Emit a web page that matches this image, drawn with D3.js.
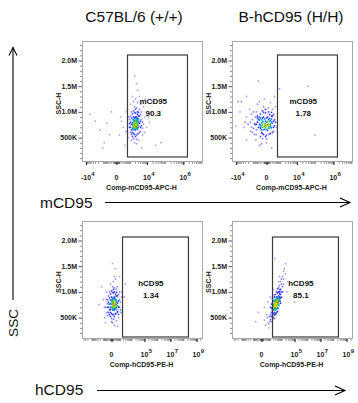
<!DOCTYPE html>
<html><head><meta charset="utf-8">
<script src="https://cdn.jsdelivr.net/npm/d3@7"></script>
<style>body{margin:0;background:#fff}text{font-family:Arial,"Liberation Sans",sans-serif}</style>
</head><body>
<svg id="c" width="358" height="403"></svg>
<script>
// ---------- data ----------
const columnTitles = ["C57BL/6 (+/+)", "B-hCD95 (H/H)"];
const rowMarkers = ["mCD95", "hCD95"];
const sideLabel = "SSC";
const yTitle = "SSC-H";
const yTickValues = [500, 1000, 1500, 2000];          // SSC-H in thousands
const yTickLabels = ["500K", "1.0M", "1.5M", "2.0M"];
const mTickValues = [-1e4, 0, 1e4, 1e6];
const mTickLabels = ["-10^4", "0", "10^4", "10^6"];
const hTickValues = [0, 1e5, 1e7, 1e9];
const hTickLabels = ["0", "10^5", "10^7", "10^9"];
const gateNames = ["mCD95", "mCD95", "hCD95", "hCD95"];
const gatePercents = ["90.3", "1.78", "1.34", "85.1"];
const xAxisTitles = ["Comp-mCD95-APC-H", "Comp-mCD95-APC-H", "Comp-hCD95-PE-H", "Comp-hCD95-PE-H"];
const mGate = [656, 1.69e6, 123, 2107];   // x0, x1, y0, y1 (y in K)
const hGate = [1750, 2.4e8, 123, 2068];

// events: [fluorescence, SSC-H (K)]
const wtMouseCD95 = [
[1650,700],[1900,760],[2180,820],[2500,680],[2870,740],[1420,790],[3280,800],[1900,650],[2180,720],[2500,870],
[1650,840],[2870,660],[2180,900],[1900,880],[2500,760],[3280,710],[1420,680],[1650,770],[2870,820],[2180,650],
[1900,700],[2500,800],[2180,770],[1650,900],[3280,860],[2870,880],[1420,740],[1900,820],[2500,720],[2180,690],
[1750,730],[2050,790],[2350,750],[2700,770],[1550,720],[2050,860],[2350,680],[3050,760],[1750,810],[2700,700],
[2050,730],[2350,830],[1550,850],[3050,690],[1750,660],[2700,850],[2050,670],[2350,900],[1550,660],[3050,830],
[905,700],[1057,800],[1230,650],[3750,780],[4280,700],[4890,850],[1057,920],[1230,560],[3750,600],[4280,950],
[905,850],[1230,1000],[2180,1050],[2870,1000],[1650,1020],[1900,560],[2500,550],[2180,520],[3280,580],[1420,600],
[3750,920],[1057,600],[4280,820],[1230,760],[1650,580],[2870,570],[2500,1080],[1900,1100],[3280,990],[1420,960],
[905,770],[4890,730],[5580,800],[1057,700],[3750,1050],[2180,980],[1650,480],[2500,470],[3280,920],[1420,520],
[2870,950],[1900,990],[4280,620],[1230,880],[5580,680],
[656,600],[773,900],[6360,760],[7250,900],[656,1050],[9400,700],[2180,1250],[1650,1200],[2870,1180],[3750,1300],
[1900,400],[2500,380],[1230,450],[4280,1150],[773,500],[6360,1100],[5580,550],[13800,800],[1423,1300],[2866,1420],
[3281,450],[1057,1150],[7250,600],[2500,1550],[4890,1000],
[300,700],[-500,780],[-1500,650],[150,900],[-3000,820],[-800,400],[400,350],[-200,1000],[-6000,950],[100,550],
[-1000,300],[500,620],[-300,560],[200,820],[550,1000],
[30000,350],[60000,400],[12000,900],[5000,300],[8000,1250],[2000,1700],[20000,1200]
];
const humanMouseMCD95 = [
[-247,700],[-143,760],[-29,820],[62,680],[143,740],[-192,790],[192,800],[-100,650],[0,720],[100,870],
[-310,840],[-62,660],[29,900],[-143,880],[62,760],[143,710],[-247,680],[-29,770],[100,820],[-192,650],
[-100,700],[0,800],[-62,770],[-310,900],[192,860],[100,750],[-247,740],[-143,820],[62,720],[-29,690],
[-192,730],[-62,860],[29,750],[143,770],[-100,810],[0,660],[-310,760],[62,850],[-143,700],[29,800],
[-247,880],[192,690],[-29,740],[100,690],[-192,850],[0,880],[-62,720],[143,830],[-100,900],[29,640],
[-381,700],[-462,800],[-555,650],[247,780],[310,700],[381,850],[-462,920],[-555,560],[247,600],[310,950],
[-381,850],[-555,1000],[-29,1050],[62,1000],[-143,1020],[-100,560],[0,550],[-29,520],[143,580],[-192,600],
[247,920],[-656,750],[310,820],[-555,760],[-143,580],[100,570],[62,1080],[-100,1100],[192,990],[-247,960],
[-773,770],[381,730],[462,800],[-656,900],[247,1050],[-29,980],[-143,480],[0,470],[192,920],[-247,520],
[100,950],[-100,990],[310,620],[-462,880],[-905,680],
[-1057,850],[-1230,700],[-1423,800],[-905,1000],[-773,560],[462,1100],[-1057,600],[555,700],[-1230,950],[-62,1250],
[-310,1200],[143,1180],[-1423,620],[-2000,760],[-2500,900],[0,400],[-190,380],[-462,1150],[-620,450],[380,1300],
[-2500,1300],[-1600,1050],
[-3000,800],[-3500,700],[-6000,1000],[-5000,1200],[-300,350],[200,300],[-400,1600],[-10000,720],[40000,1500],[100000,550],
[-2500,450],[900,1450],[-7500,1200]
];
const wtMouseHCD95 = [
[-56,700],[0,760],[56,820],[123,680],[203,740],[299,790],[413,800],[56,650],[123,720],[203,870],
[299,840],[413,660],[0,900],[56,880],[123,760],[203,710],[299,680],[-56,770],[413,820],[123,650],
[56,700],[203,800],[123,770],[0,840],[299,860],[413,750],[-56,840],[56,790],[203,690],[299,720],
[123,860],[203,650],[0,700],[56,740],[299,760],[123,810],[203,900],[-56,660],[413,700],[56,850],
[159,730],[250,770],[90,790],[350,710],[159,880],[250,680],[90,680],[350,850],[25,810],[159,830],
[-299,700],[-203,800],[-123,650],[550,780],[711,700],[907,850],[-203,920],[-123,560],[550,600],[711,950],
[-299,850],[-123,1000],[123,1050],[203,1000],[0,1020],[56,560],[123,550],[203,520],[299,580],[-56,600],
[550,920],[-203,600],[711,820],[-123,760],[0,580],[299,570],[203,1080],[56,1100],[413,990],[-56,960],
[-299,770],[550,730],[907,700],[-203,700],[413,1050],[123,980],[0,480],[123,470],[413,920],[-56,520],
[299,950],[56,990],[550,620],[-123,880],[711,560],
[-413,850],[-550,700],[1140,800],[-413,600],[907,1000],[123,1200],[299,1250],[-56,1150],[1415,900],[711,500],
[0,420],[413,440],[-299,540],[1140,650],[550,1100],[203,1300],[-413,1000],[56,400],
[1500,1000],[-711,700],[-907,850],[299,1450],[56,1550],[1300,600],[-550,400],[550,330],[203,350],[2500,900],
[-1400,1100],[907,1300],[-700,500],[-2500,750],[3000,1150]
];
const humanMouseHCD95 = [
[2140,660],[2610,700],[3172,740],[3845,780],[4643,820],[5600,860],[6740,900],[2610,650],[3172,690],[3845,720],
[4643,760],[5600,800],[6740,850],[2140,720],[2610,760],[3172,800],[3845,840],[4643,880],[3172,660],[3845,680],
[4643,700],[5600,740],[2610,820],[3172,860],[3845,900],[2900,720],[3500,760],[4200,800],[5100,840],[2900,780],
[3500,820],[4200,860],[5100,900],[2400,680],[3500,700],[4200,740],[5100,780],[6100,820],[2400,750],[2900,660],
[4200,680],[6100,880],[3845,760],[3172,770],[4643,800],[3500,660],[2900,840],[5600,920],[2610,600],[6740,960],
[1140,560],[1415,600],[1746,640],[907,520],[1746,700],[2140,580],[2610,550],[1415,680],[8100,950],[9720,1000],
[8100,1050],[6740,1000],[11660,1100],[5600,1000],[9720,900],[4643,980],[3845,1000],[5600,1080],[6740,1120],[3172,950],
[2140,820],[1746,780],[2610,900],[7400,820],[8100,880],[1415,760],[2140,500],[3172,560],[3845,600],[1140,700],
[4643,620],[2610,480],[13970,1150],[9720,1150],[4643,1060],[1746,540],[1415,520],[7400,1040],[3500,580],[2400,940],
[5100,680],[6100,740],[11660,1000],[8100,780],[1746,880],
[907,420],[1140,460],[700,380],[1415,420],[13970,1250],[11660,1300],[20070,1350],[9720,1250],[8100,1200],[16000,1450],
[13970,1400],[6740,1300],[20070,1550],[550,500],[2140,1050],[5600,1200],
[300,350],[200,450],[800,300],[-200,600],[200,700],[600,800],[1100,900],[-500,420],[25000,1000],[100000,800],
[3000,1650],[28700,1200],[410,560]
];

// ---------- layout ----------
const svg = d3.select("#c");
const panels = [
  {x0:82, x1:203, y0:41, y1:162, axis:"m", pts:wtMouseCD95, gate:mGate},
  {x0:232, x1:353, y0:41, y1:162, axis:"m", pts:humanMouseMCD95, gate:mGate},
  {x0:82, x1:203, y0:221, y1:339, axis:"h", pts:wtMouseHCD95, gate:hGate},
  {x0:232, x1:353, y0:221, y1:339, axis:"h", pts:humanMouseHCD95, gate:hGate}
];

const densColor = d3.scaleLinear()
  .domain([0, 0.22, 0.45, 0.65, 0.8, 0.93, 1])
  .range(["#a0a0ff", "#4a4aff", "#1818f0", "#10a0e8", "#20b828", "#d8d800", "#ff7000"])
  .clamp(true);

function minorTicks(domain) {
  const out = [];
  for (let k = 1; k <= 9; k++) for (let m = 1; m <= 9; m++) {
    const v = m * Math.pow(10, k);
    if (v <= domain[1]) out.push(v);
    if (-v >= domain[0]) out.push(-v);
  }
  return out;
}

panels.forEach((p, i) => {
  const g = svg.append("g");
  const isM = p.axis === "m";
  const domain = isM ? [-16700, 1.2e7] : [-53600, 3.16e9];
  const x = d3.scaleSymlog().constant(isM ? 218 : 290).domain(domain).range([p.x0, p.x1]);
  const y = d3.scaleLinear().domain([500, 2000]).range([p.y0 + 96.6, p.y0 + 19.5]);
  const tickVals = isM ? mTickValues : hTickValues;
  const tickLabs = isM ? mTickLabels : hTickLabels;

  const cid = "clip" + i;
  svg.append("clipPath").attr("id", cid).append("rect")
    .attr("x", p.x0).attr("y", p.y0).attr("width", p.x1 - p.x0).attr("height", p.y1 - p.y0);

  // events coloured by local density
  const pts = p.pts.map(d => ({px: x(d[0]), py: y(d[1])}));
  pts.forEach(a => {
    a.n = pts.filter(b => (a.px - b.px) ** 2 + (a.py - b.py) ** 2 < 14).length;
  });
  const maxN = d3.max(pts, d => d.n);
  pts.sort((a, b) => a.n - b.n);
  g.append("g").attr("clip-path", `url(#${cid})`).selectAll("rect").data(pts).join("rect")
    .attr("x", d => d.px - 0.8).attr("y", d => d.py - 0.8)
    .attr("width", 1.6).attr("height", 1.6)
    .attr("fill", d => densColor(d.n / maxN))
    .attr("opacity", d => d.n / maxN > 0.22 ? 0.95 : 0.8);

  // frame
  g.append("rect").attr("x", p.x0 + 0.5).attr("y", p.y0 + 0.5)
    .attr("width", p.x1 - p.x0 - 1).attr("height", p.y1 - p.y0 - 1)
    .attr("fill", "none").attr("stroke", "#a8a8a8").attr("stroke-width", 1);

  // gate
  const gt = p.gate;
  g.append("rect").attr("x", x(gt[0])).attr("y", y(gt[3]))
    .attr("width", x(gt[1]) - x(gt[0])).attr("height", y(gt[2]) - y(gt[3]))
    .attr("fill", "none").attr("stroke", "#3a3a3a").attr("stroke-width", 1.2);
  const lx = x(gt[0]) + (x(gt[1]) - x(gt[0])) * 0.43;
  g.append("text").attr("x", lx).attr("y", y(gt[3]) + 49)
    .attr("text-anchor", "middle").attr("font-size", 8).attr("font-weight", "bold").attr("fill", "#111")
    .text(gateNames[i]);
  g.append("text").attr("x", lx).attr("y", y(gt[3]) + 60.5)
    .attr("text-anchor", "middle").attr("font-size", 8).attr("font-weight", "bold").attr("fill", "#111")
    .text(gatePercents[i]);

  // y axis
  const yMinor = d3.range(100, 2400, 100).filter(v => y(v) > p.y0 + 1 && y(v) < p.y1 - 1);
  g.selectAll(".ym").data(yMinor).join("line")
    .attr("x1", p.x0).attr("x2", d => yTickValues.includes(d) ? p.x0 - 3.5 : p.x0 - 2)
    .attr("y1", d => y(d) + 0.5).attr("y2", d => y(d) + 0.5)
    .attr("stroke", "#555").attr("stroke-width", d => yTickValues.includes(d) ? 1 : 0.7);
  g.selectAll(".yl").data(yTickValues).join("text")
    .attr("x", p.x0 - 5).attr("y", d => y(d) + 2.5)
    .attr("text-anchor", "end").attr("font-size", 7).attr("font-weight", "bold").attr("fill", "#222")
    .text((d, j) => yTickLabels[j]);
  g.append("text")
    .attr("transform", `translate(${p.x0 - 21},${(p.y0 + p.y1) / 2 + 2}) rotate(-90)`)
    .attr("text-anchor", "middle").attr("font-size", 7).attr("font-weight", "bold").attr("fill", "#222")
    .text(yTitle);

  // x axis
  const xm = minorTicks(domain).filter(v => x(v) > p.x0 + 1 && x(v) < p.x1 - 1);
  g.selectAll(".xm").data(xm).join("line")
    .attr("x1", d => x(d) + 0.5).attr("x2", d => x(d) + 0.5)
    .attr("y1", p.y1).attr("y2", p.y1 + 1.8)
    .attr("stroke", "#666").attr("stroke-width", 0.7);
  g.selectAll(".xM").data(tickVals).join("line")
    .attr("x1", d => x(d) + 0.5).attr("x2", d => x(d) + 0.5)
    .attr("y1", p.y1).attr("y2", p.y1 + 3)
    .attr("stroke", "#333").attr("stroke-width", 1.2);
  tickVals.forEach((v, j) => {
    const parts = tickLabs[j].split("^");
    const tx = x(v);
    const t = g.append("text").attr("x", tx).attr("y", p.y1 + 18)
      .attr("text-anchor", "middle").attr("font-size", 7).attr("font-weight", "bold").attr("fill", "#222")
      .text(parts[0]);
    if (parts[1]) {
      const w = t.node().getComputedTextLength();
      g.append("text").attr("x", tx + w / 2 + 0.3).attr("y", p.y1 + 13.5)
        .attr("font-size", 6).attr("font-weight", "bold").attr("fill", "#222").text(parts[1]);
    }
  });
  g.append("text").attr("x", (p.x0 + p.x1) / 2 - 1).attr("y", p.y1 + 27.5)
    .attr("text-anchor", "middle").attr("font-size", 7).attr("font-weight", "bold").attr("fill", "#222")
    .text(xAxisTitles[i]);
});

// column titles
const colCenters = [134, 291];
columnTitles.forEach((t, i) => {
  svg.append("text").attr("x", colCenters[i]).attr("y", 22)
    .attr("text-anchor", "middle").attr("font-size", 15.5).attr("fill", "#111").text(t);
});

// SSC arrow
svg.append("line").attr("x1", 13).attr("x2", 13).attr("y1", 300).attr("y2", 47.5)
  .attr("stroke", "#000").attr("stroke-width", 1.1);
svg.append("polyline").attr("points", "9,55.5 13,47.5 17,55.5")
  .attr("fill", "none").attr("stroke", "#000").attr("stroke-width", 1.1);
svg.append("text").attr("transform", "translate(18,323) rotate(-90)")
  .attr("text-anchor", "middle").attr("font-size", 13.5).attr("fill", "#111").text(sideLabel);

// marker arrows
const markerRows = [
  {tx: 40, ty: 207.5, lx0: 105, lx1: 350, ly: 202},
  {tx: 35, ty: 395, lx0: 97, lx1: 345, ly: 390}
];
rowMarkers.forEach((m, i) => {
  const r = markerRows[i];
  svg.append("text").attr("x", r.tx).attr("y", r.ty).attr("font-size", 15.5).attr("fill", "#111").text(m);
  svg.append("line").attr("x1", r.lx0).attr("x2", r.lx1).attr("y1", r.ly + 0.5).attr("y2", r.ly + 0.5)
    .attr("stroke", "#000").attr("stroke-width", 1.1);
  svg.append("polyline")
    .attr("points", `${r.lx1 - 10},${r.ly - 4} ${r.lx1},${r.ly + 0.5} ${r.lx1 - 10},${r.ly + 5}`)
    .attr("fill", "none").attr("stroke", "#000").attr("stroke-width", 1.1);
});
</script>
</body></html>
